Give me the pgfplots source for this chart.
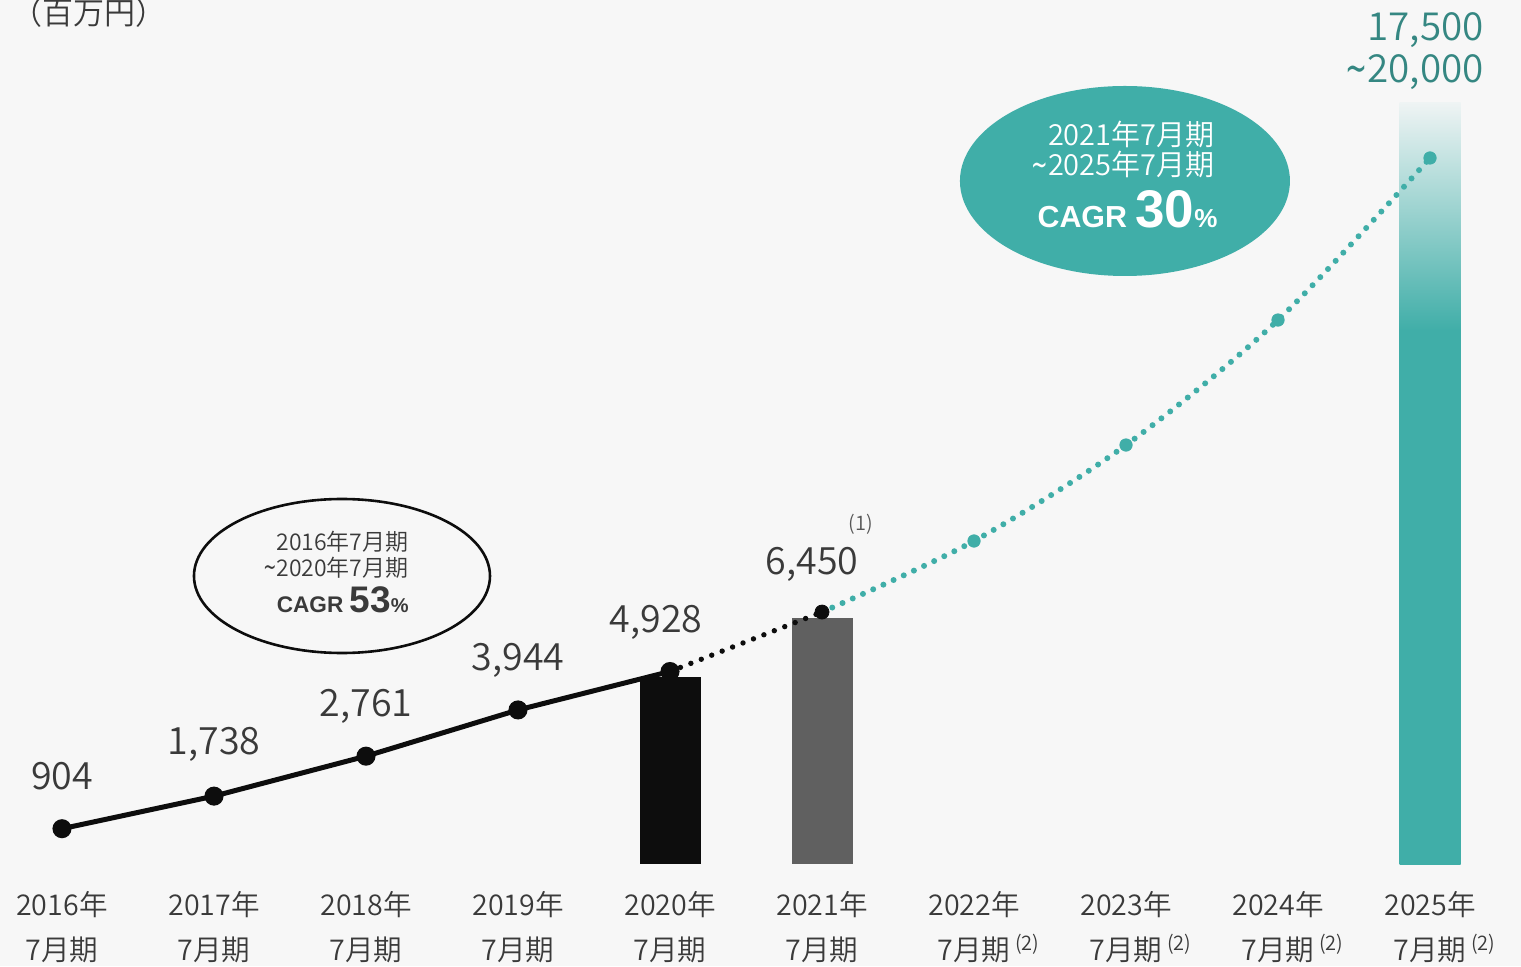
\documentclass[border=0pt]{standalone}
\usepackage{pgfplots}
\pgfplotsset{compat=1.18}
\usepackage{graphicx}
\usepackage{fontspec}
\setmainfont{Noto Sans CJK JP}[UprightFont=* DemiLight, BoldFont=* Bold]
\newfontfamily\arialb{Liberation Sans}[UprightFont=* Bold]
\newfontfamily\dejavu{DejaVu Sans}
\newcommand{\tl}{\scalebox{0.68}[1.1]{\dejavu\char"007E}}
\definecolor{bgc}{HTML}{F7F7F7}
\definecolor{tealc}{HTML}{40AEA8}
\definecolor{fadec}{HTML}{EFF4F4}
\definecolor{tealdark}{HTML}{358782}
\definecolor{blk}{HTML}{0D0D0D}
\definecolor{greybar}{HTML}{606060}
\definecolor{txt}{HTML}{3A3A3A}
\pgfdeclareverticalshading{barfade}{100bp}{color(0bp)=(tealc); color(60bp)=(tealc); color(75bp)=(fadec); color(100bp)=(fadec)}
\begin{document}
\begin{tikzpicture}
\begin{axis}[
  scale only axis, width=760.5pt, height=483pt,
  xmin=-0.40789, xmax=9.59868, ymin=-2611.2, ymax=22118.4,
  axis background/.style={fill=bgc},
  axis line style={draw=none}, major tick length=0pt,
  ytick=\empty,
  xtick={0,1,2,3,4,5,6,7,8,9},
  xticklabels={2016年\\7月期, 2017年\\7月期, 2018年\\7月期, 2019年\\7月期, 2020年\\7月期, 2021年\\7月期,
    2022年\\7月期\rlap{\,\textsuperscript{(2)}}, 2023年\\7月期\rlap{\,\textsuperscript{(2)}},
    2024年\\7月期\rlap{\,\textsuperscript{(2)}}, 2025年\\7月期\rlap{\,\textsuperscript{(2)}}},
  xticklabel style={anchor=center, yshift=19.25pt, align=center, text=txt, font=\fontsize{14.3}{22.5}\selectfont},
  clip=false,
]
% bars
\addplot[ybar, bar width=30.5pt, bar shift=0pt, fill=blk, draw=none] coordinates {(4,4787)};
\addplot[ybar, bar width=30.5pt, bar shift=0pt, fill=greybar, draw=none] coordinates {(5,6298)};
\addplot[ybar, bar width=30.5pt, bar shift=0pt, draw=none, shade, shading=barfade] coordinates {(9,19507)};
% teal projected line
\addplot[tealc, smooth, line width=3pt, line cap=round, dash pattern=on 0pt off 5.6pt] coordinates {(5,6450) (6,8269) (7,10726) (8,13926) (9,18074)};
\addplot[only marks, color=tealc, mark=*, mark size=3.1pt] coordinates {(6,8269) (7,10726) (8,13926) (9,18074)};
% black dotted
\addplot[blk, line width=2.7pt, line cap=round, dash pattern=on 0pt off 5.6pt] coordinates {(4,4928) (5,6450)};
% black solid
\addplot[blk, line width=2.5pt, mark=*, mark size=3.5pt, mark options={solid}] coordinates {(0,904) (1,1738) (2,2761) (3,3944) (4,4928)};
\addplot[only marks, color=blk, mark=*, mark size=3.5pt] coordinates {(5,6450)};
% data labels
\begin{scope}[every node/.style={text=txt, font=\fontsize{18.8}{20}\selectfont, inner sep=0pt}]
\node at (axis cs:0,2253) {904};
\node at (axis cs:1,3072) {1,738};
\node at (axis cs:2,4045) {2,761};
\node at (axis cs:3,5222) {3,944};
\node at (axis cs:3.908,6195) {4,928};
\node at (axis cs:4.934,7680) {6,450};
\end{scope}
\node[text=txt!85, font=\fontsize{10}{10}\selectfont, inner sep=0pt] at (axis cs:5.257,8704) {(1)};
\node[text=tealdark, font=\fontsize{19.3}{22.5}\selectfont, anchor=base east, inner sep=0pt] at (axis cs:9.355,21094) {17,500};
\node[text=tealdark, font=\fontsize{19.3}{22.5}\selectfont, anchor=base east, inner sep=0pt] at (axis cs:9.355,19994) {\tl20,000};
\node[text=txt, font=\fontsize{15.5}{16}\selectfont, anchor=west, inner sep=0pt] at (axis cs:-0.3355,21786) {（百万円）};
% left ellipse
\draw[blk, line width=1.3pt] (axis cs:1.842,7373) ellipse [x radius=74pt, y radius=38.5pt];
\begin{scope}[every node/.style={text=txt, anchor=base east, inner sep=0pt, font=\fontsize{11.5}{13}\selectfont}]
\node at (axis cs:2.2829,8038) {2016年7月期};
\node at (axis cs:2.2829,7373) {\tl2020年7月期};
\node at (axis cs:2.2829,6451) {\arialb\fontsize{11.3}{12}\selectfont CAGR \fontsize{18.5}{16}\selectfont 53\fontsize{10}{12}\selectfont\%};
\end{scope}
% right ellipse
\fill[tealc] (axis cs:6.993,17485) ellipse [x radius=82.5pt, y radius=47.5pt];
\begin{scope}[every node/.style={text=white, anchor=base east, inner sep=0pt, font=\fontsize{14.5}{15}\selectfont}]
\node at (axis cs:7.5855,18406) {2021年7月期};
\node at (axis cs:7.5855,17638) {\tl2025年7月期};
\node at (axis cs:7.605,16307) {\arialb\fontsize{15.2}{18}\selectfont CAGR \fontsize{26.5}{27}\selectfont 30\fontsize{13}{16}\selectfont\%};
\end{scope}
\end{axis}
\pgfresetboundingbox
\path (current axis.south west) rectangle (current axis.north east);
\end{tikzpicture}
\end{document}
